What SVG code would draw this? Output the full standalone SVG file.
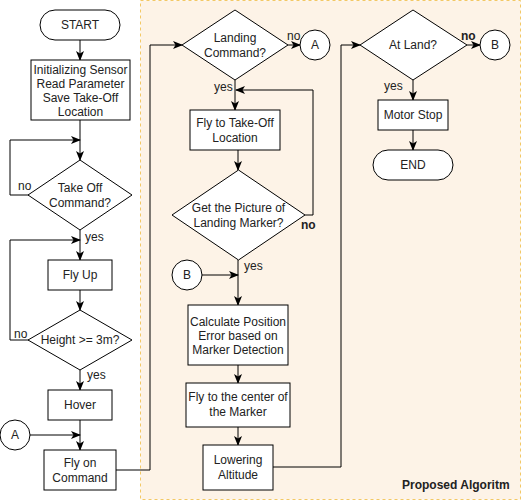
<svg xmlns="http://www.w3.org/2000/svg" width="521" height="501" viewBox="0 0 521 501">
<defs>
<marker id="arr" viewBox="0 0 10 8" refX="9" refY="4" markerWidth="10" markerHeight="8" markerUnits="userSpaceOnUse" orient="auto">
<path d="M0,0 L10,4 L0,8 L2.5,4 z" fill="#000"/>
</marker>
</defs>
<style>
.box{fill:#fff;stroke:#000;stroke-width:1}
.t{font-family:"Liberation Sans",Arial,sans-serif;font-size:12px;fill:#222;text-anchor:middle}
.lbl{font-family:"Liberation Sans",Arial,sans-serif;font-size:12px;fill:#222}
.b{font-weight:bold}
.c{fill:none;stroke:#000;stroke-width:1}
.ca{fill:none;stroke:#000;stroke-width:1;marker-end:url(#arr)}
</style>
<rect id="container" x="140.5" y="0.5" width="380" height="499" fill="#fdf3e7" stroke="#f3c865" stroke-dasharray="3,3"/>
<text class="lbl b" x="402" y="489" font-size="11.5">Proposed Algoritm</text>

<g id="connectors">
<path class="ca" d="M80,40 V60"/>
<path class="ca" d="M80,120 V160"/>
<path class="ca" d="M30,195 H10 V140 H80"/>
<path class="ca" d="M80,230 V260"/>
<path class="ca" d="M80,290 V310"/>
<path class="ca" d="M30,340 H10 V240 H80"/>
<path class="ca" d="M80,370 V390"/>
<path class="ca" d="M80,420 V450"/>
<path class="ca" d="M30,435 H80"/>
<path class="ca" d="M116,470 H150 V45 H182"/>
<path class="ca" d="M288,45 H300"/>
<path class="ca" d="M235,80 V110"/>
<path class="ca" d="M238,150 V170"/>
<path class="ca" d="M305,215 H313 V90 H236"/>
<path class="ca" d="M238,260 V305"/>
<path class="ca" d="M202,275 H238"/>
<path class="ca" d="M238,365 V383"/>
<path class="ca" d="M238,427 V445"/>
<path class="ca" d="M273,467 H341 V45 H360"/>
<path class="ca" d="M467,45 H480"/>
<path class="ca" d="M413,80 V100"/>
<path class="ca" d="M413,130 V150"/>
</g>

<text class="lbl" x="18" y="190">no</text>
<text class="lbl" x="85" y="241">yes</text>
<text class="lbl" x="14" y="338">no</text>
<text class="lbl" x="87" y="379">yes</text>
<text class="lbl" x="287" y="40">no</text>
<text class="lbl" x="214" y="91">yes</text>
<text class="lbl b" x="301" y="229">no</text>
<text class="lbl" x="244" y="270">yes</text>
<text class="lbl b" x="461" y="40">no</text>
<text class="lbl" x="384" y="90">yes</text>

<g id="start"><rect class="box" x="40" y="10" width="80" height="30" rx="15"/><text class="t" x="80" y="29">START</text></g>
<g id="init"><rect class="box" x="31" y="60" width="99" height="60"/>
<text class="t" x="80.5" y="74">Initializing Sensor</text>
<text class="t" x="80.5" y="88">Read Parameter</text>
<text class="t" x="80.5" y="102">Save Take-Off</text>
<text class="t" x="80.5" y="116">Location</text></g>
<g id="takeoff"><polygon class="box" points="80,160 132,195 80,230 28,195"/>
<text class="t" x="80" y="192">Take Off</text><text class="t" x="80" y="207">Command?</text></g>
<g id="flyup"><rect class="box" x="48" y="260" width="64" height="30"/><text class="t" x="80" y="279">Fly Up</text></g>
<g id="height"><polygon class="box" points="80,310 132,340 80,370 28,340"/>
<text class="t" x="80" y="344">Height &gt;= 3m?</text></g>
<g id="hover"><rect class="box" x="48" y="390" width="64" height="30"/><text class="t" x="80" y="409">Hover</text></g>
<g id="connA1"><circle class="box" cx="15" cy="435" r="15"/><text class="t" x="15" y="439">A</text></g>
<g id="flycmd"><rect class="box" x="44" y="450" width="72" height="40"/>
<text class="t" x="80" y="467">Fly on</text><text class="t" x="80" y="482">Command</text></g>

<g id="landing"><polygon class="box" points="235,10 288,45 235,80 182,45"/>
<text class="t" x="235" y="42">Landing</text><text class="t" x="235" y="57">Command?</text></g>
<g id="connA2"><circle class="box" cx="315" cy="45" r="15"/><text class="t" x="315" y="49">A</text></g>
<g id="flytakeoff"><rect class="box" x="190" y="110" width="90" height="40"/>
<text class="t" x="235" y="127">Fly to Take-Off</text><text class="t" x="235" y="142">Location</text></g>
<g id="getpic"><polygon class="box" points="238.5,170 305,215 238.5,260 172,215"/>
<text class="t" x="238.5" y="212">Get the Picture of</text><text class="t" x="238.5" y="227">Landing Marker?</text></g>
<g id="connB1"><circle class="box" cx="187" cy="275" r="15"/><text class="t" x="187" y="279">B</text></g>
<g id="calc"><rect class="box" x="188" y="305" width="100" height="60"/>
<text class="t" x="238" y="326">Calculate Position</text>
<text class="t" x="238" y="340">Error based on</text>
<text class="t" x="238" y="354">Marker Detection</text></g>
<g id="flycenter"><rect class="box" x="186" y="383" width="104" height="44"/>
<text class="t" x="238" y="401">Fly to the center of</text><text class="t" x="238" y="416">the Marker</text></g>
<g id="lowering"><rect class="box" x="203" y="445" width="70" height="45"/>
<text class="t" x="238" y="464">Lowering</text><text class="t" x="238" y="479">Altitude</text></g>

<g id="atland"><polygon class="box" points="413,10 467,45 413,80 360,45"/>
<text class="t" x="413" y="49">At Land?</text></g>
<g id="connB2"><circle class="box" cx="495" cy="45" r="15"/><text class="t" x="495" y="49">B</text></g>
<g id="motorstop"><rect class="box" x="378" y="100" width="70" height="30"/><text class="t" x="413" y="119">Motor Stop</text></g>
<g id="end"><rect class="box" x="373" y="150" width="80" height="30" rx="15"/><text class="t" x="413" y="169">END</text></g>
</svg>
